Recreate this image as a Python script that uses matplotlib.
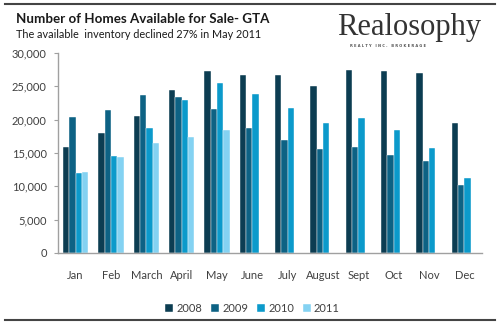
import numpy as np
import matplotlib
matplotlib.use("Agg")
import matplotlib.pyplot as plt
from matplotlib.lines import Line2D

# --- data ---
months = ["Jan", "Feb", "March", "April", "May", "June", "July",
          "August", "Sept", "Oct", "Nov", "Dec"]
years = ["2008", "2009", "2010", "2011"]
y2008 = [15870, 17960, 20510, 24500, 27200, 26700, 26650, 25050, 27400, 27250, 27000, 19510]
y2009 = [20360, 21410, 23650, 23450, 21560, 18710, 16920, 15620, 15870, 14720, 13820, 10230]
y2010 = [11980, 14470, 18710, 23000, 25450, 23900, 21710, 19510, 20260, 18360, 15770, 11280]
y2011 = [12130, 14370, 16520, 17420, 18460, np.nan, np.nan, np.nan, np.nan, np.nan, np.nan, np.nan]
series = [y2008, y2009, y2010, y2011]
colors = ["#0c3d52", "#0d6284", "#0b9acb", "#84d2f2"]

font = "Lato"
txt = "#404040"

fig = plt.figure(figsize=(5.0, 3.27), dpi=100)
ax = fig.add_axes([0.116, 0.2263, 0.848, 0.6122])

x = np.arange(len(months))
w = 0.177
for i, (vals, c, yr) in enumerate(zip(series, colors, years)):
    ax.bar(x + (i - 1.5) * w, vals, w, color=c, label=yr,
           edgecolor="white", linewidth=0.3)

ax.set_xlim(-0.5, len(months) - 0.5)
ax.set_ylim(0, 30000)
ax.set_yticks(np.arange(0, 30001, 5000))
ax.set_yticklabels([f"{v:,}" for v in range(0, 30001, 5000)],
                   fontsize=8, color=txt, family=font)
ax.set_xticks(x)
ax.set_xticklabels(months, fontsize=8, color=txt, family=font)
ax.tick_params(axis="x", length=0, pad=12)
ax.tick_params(axis="y", length=3, color="#a0a0a0", pad=5)
for s in ["top", "right"]:
    ax.spines[s].set_visible(False)
for s in ["left", "bottom"]:
    ax.spines[s].set_color("#a0a0a0")
    ax.spines[s].set_linewidth(1.0)

leg = fig.legend(loc="center", bbox_to_anchor=(0.505, 0.058), ncol=4,
                 frameon=False, handlelength=0.7, handleheight=0.7,
                 handletextpad=0.3, columnspacing=0.8,
                 prop={"family": font, "size": 8})
for t in leg.get_texts():
    t.set_color(txt)

# titles
fig.text(0.032, 0.942, "Number of Homes Available for Sale- GTA",
         fontsize=9.6, fontweight="bold", family=font, color="#1a1a1a", va="center")
fig.text(0.032, 0.893, "The available  inventory declined 27% in May 2011",
         fontsize=7.8, family=font, color="#1a1a1a", va="center")

# logo
fig.text(0.818, 0.915, "Realosophy", fontsize=22, family="Liberation Serif",
         color="#333333", ha="center", va="center")
fig.text(0.776, 0.860, "R E A L T Y   I N C .   B R O K E R A G E", fontsize=2.6,
         family="DejaVu Sans", fontweight="bold", color="#555555",
         ha="center", va="center")

# frame rules
fig.add_artist(Line2D([0.01, 0.99], [0.988, 0.988], color="#444444", lw=1.5))
fig.add_artist(Line2D([0.01, 0.99], [0.021, 0.021], color="#444444", lw=1.5))

fig.savefig("out.png", dpi=100, facecolor="white")
